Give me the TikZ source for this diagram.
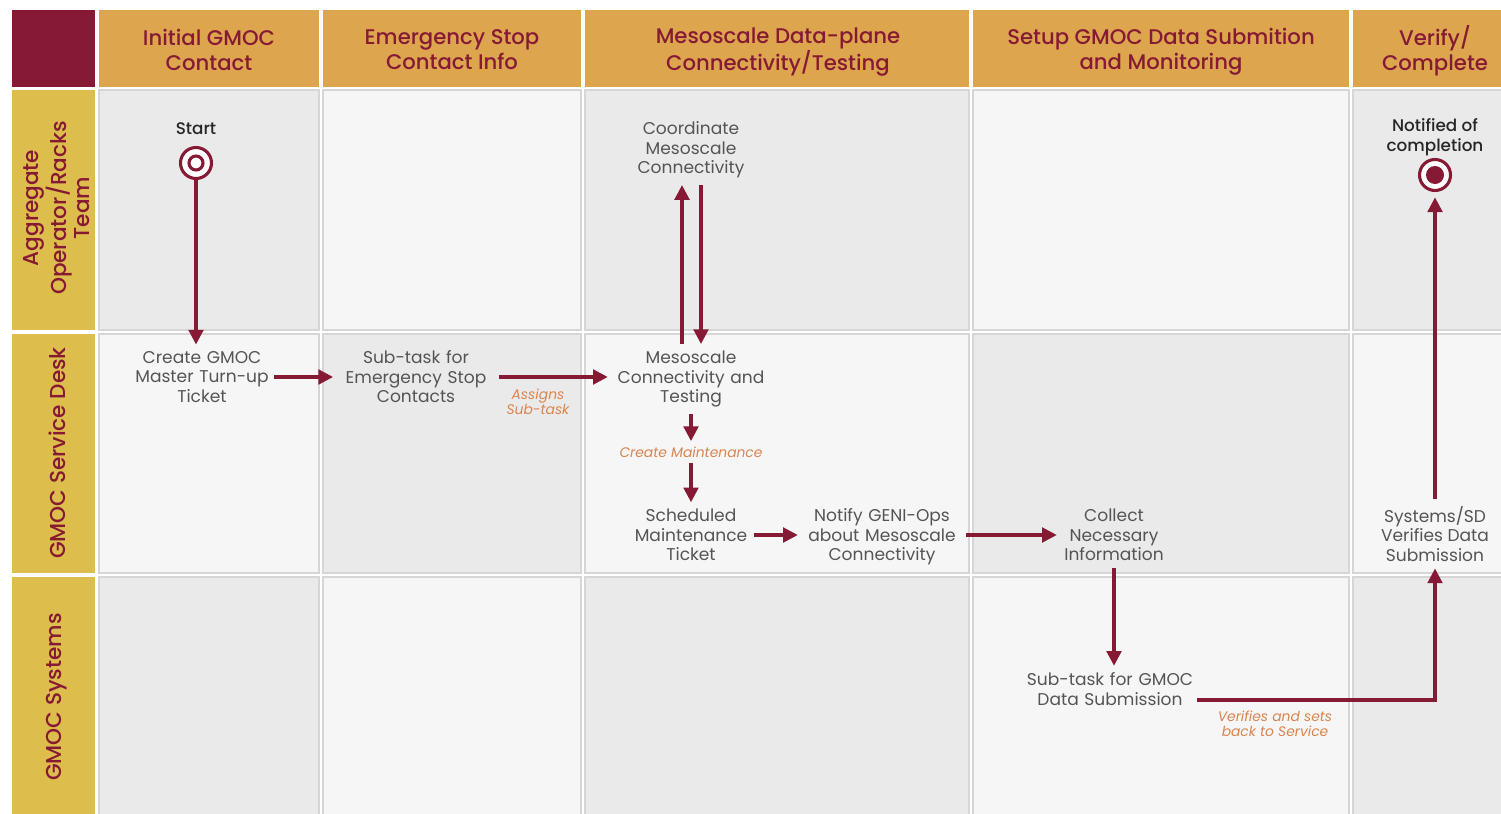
\documentclass[tikz,border=0pt]{standalone}
\usepackage{fontspec}
\setmainfont{Poppins}
\newfontfamily\medfont{Poppins}[UprightFont={* Medium}]
\usetikzlibrary{arrows.meta}
\definecolor{maroon}{HTML}{861A35}
\definecolor{hdrorange}{HTML}{DCA54E}
\definecolor{rowyellow}{HTML}{DDBD4B}
\definecolor{celldark}{HTML}{EAEAEA}
\definecolor{celllight}{HTML}{F6F6F6}
\definecolor{cellline}{HTML}{D6D6D6}
\definecolor{txtgray}{HTML}{555555}
\definecolor{lblorange}{HTML}{D9854F}
\tikzset{
  cellbox/.style={draw=cellline, line width=1pt},
  hdrtext/.style={align=center, text=maroon, font=\medfont\fontsize{15.9}{18.7}\selectfont},
  rowtext/.style={align=center, text=maroon, rotate=90, font=\medfont\fontsize{16.2}{17.6}\selectfont},
  task/.style={align=center, text=txtgray, inner sep=0pt, font=\fontsize{12.8}{14.6}\selectfont},
  lbl/.style={align=center, text=lblorange, inner sep=0pt, font=\itshape\fontsize{10.4}{11.3}\selectfont},
  bold/.style={align=center, text=black!85, inner sep=0pt, font=\medfont\fontsize{12.6}{14.6}\selectfont},
  flow/.style={draw=maroon, line width=2.3pt, -{Triangle[length=11pt,width=11pt]}},
  vflow/.style={flow, shorten <=5pt, shorten >=5pt},
}
\begin{document}
\begin{tikzpicture}[x=0.75pt,y=-0.75pt]
\useasboundingbox (0,0) rectangle (1501,813);
\fill[white] (0,0) rectangle (1501,813);
% corner
\fill[maroon] (12,10) rectangle (95,87);
% headers
\foreach \xa/\xb in {99/319,323/581,585/969,973/1349,1353/1510}
  \fill[hdrorange] (\xa,10) rectangle (\xb,87);
% row labels
\foreach \ya/\yb in {90/330,334/573,577/820}
  \fill[rowyellow] (12,\ya) rectangle (95,\yb);
% cells
\foreach \xa/\xb/\ca/\cb/\cc in {99/319/celldark/celllight/celldark,323/581/celllight/celldark/celllight,585/969/celldark/celllight/celldark,973/1349/celllight/celldark/celllight,1353/1510/celldark/celllight/celldark}{
  \filldraw[cellbox, fill=\ca] (\xa,90) rectangle (\xb,330);
  \filldraw[cellbox, fill=\cb] (\xa,334) rectangle (\xb,573);
  \filldraw[cellbox, fill=\cc] (\xa,577) rectangle (\xb,820);
}
% header texts
\node[hdrtext] (h1) at (209,49.5) {Initial GMOC\\Contact};
\node[hdrtext] (h2) at (452,49.5) {Emergency Stop\\Contact Info};
\node[hdrtext] (h3) at (778,52) {Mesoscale Data-plane\\Connectivity/Testing};
\node[hdrtext] (h4) at (1161,52) {Setup GMOC Data Submition\\and Monitoring};
\node[hdrtext] (h5) at (1435,51) {Verify/\\Complete};
% row texts
\node[rowtext] (r1) at (57,208) {Aggregate\\Operator/Racks\\Team};
\node[rowtext] (r2) at (57,453) {GMOC Service Desk};
\node[rowtext] (r3) at (57,697) {GMOC Systems};
% start / end
\node[bold] (startlbl) at (196,129) {Start};
\node[circle, draw=maroon, line width=2.3pt, fill=white, minimum size=31*0.75pt, inner sep=0pt] (start) at (196,163) {};
\node[circle, draw=maroon, line width=2.3pt, minimum size=14*0.75pt, inner sep=0pt] (startin) at (196,163) {};
\node[bold] (endlbl) at (1435,137) {Notified of\\completion};
\node[circle, draw=maroon, line width=2.3pt, fill=white, minimum size=31*0.75pt, inner sep=0pt] (endc) at (1435,175) {};
\node[circle, fill=maroon, minimum size=18*0.75pt, inner sep=0pt] (endin) at (1435,175) {};
% tasks
\node[task, text width=108pt] (create) at (202,377) {Create GMOC\\Master Turn-up\\Ticket};
\node[task, text width=124pt] (sub1) at (416,377) {Sub-task for\\Emergency Stop\\Contacts};
\node[task, text width=124.5pt] (meso) at (691,379) {Mesoscale\\Connectivity and\\Testing};
\node[task] (coord) at (691,150) {Coordinate\\Mesoscale\\Connectivity};
\node[lbl] (cm) at (691,452) {Create Maintenance};
\node[task, text width=94.5pt] (sched) at (691,535) {Scheduled\\Maintenance\\Ticket};
\node[task, text width=126pt] (notify) at (882,537) {Notify GENI-Ops\\about Mesoscale\\Connectivity};
\node[task, text width=85.5pt] (collect) at (1114,535) {Collect\\Necessary\\Information};
\node[task, text width=130.5pt] (subg) at (1110,689) {Sub-task for GMOC\\Data Submission};
\node[task] (sysd) at (1435,534) {Systems/SD\\Verifies Data\\Submission};
\node[lbl] (assigns) at (538,402) {Assigns\\Sub-task};
\node[lbl] (verifies) at (1275,724) {Verifies and sets\\back to Service};
% connectors
\draw[flow, shorten >=5pt] (start.south) -- (start.south |- create.north);
\draw[flow] (create.east) -- (create.east -| sub1.west);
\draw[flow] (sub1.east) -- (sub1.east -| meso.west);
\draw[vflow] ([xshift=-6.75pt]meso.north) -- ([xshift=-6.75pt]coord.south);
\draw[vflow] ([xshift=7.5pt]coord.south) -- ([xshift=7.5pt]meso.north);
\draw[flow, shorten <=5pt, shorten >=4pt] (meso) -- (cm);
\draw[flow, shorten <=4pt, shorten >=5pt] (cm) -- (sched);
\draw[flow] (sched.east) -- (sched.east -| notify.west);
\draw[flow] (collect.west -| notify.east) -- (collect.west);
\draw[vflow] (collect.south) -- (collect.south |- subg.north);
\draw[flow, shorten >=5pt] ([yshift=-8.25pt]subg.east) -| (sysd.south);
\draw[flow, shorten <=5pt, shorten >=4pt] (sysd) -- (endc);
\end{tikzpicture}
\end{document}
